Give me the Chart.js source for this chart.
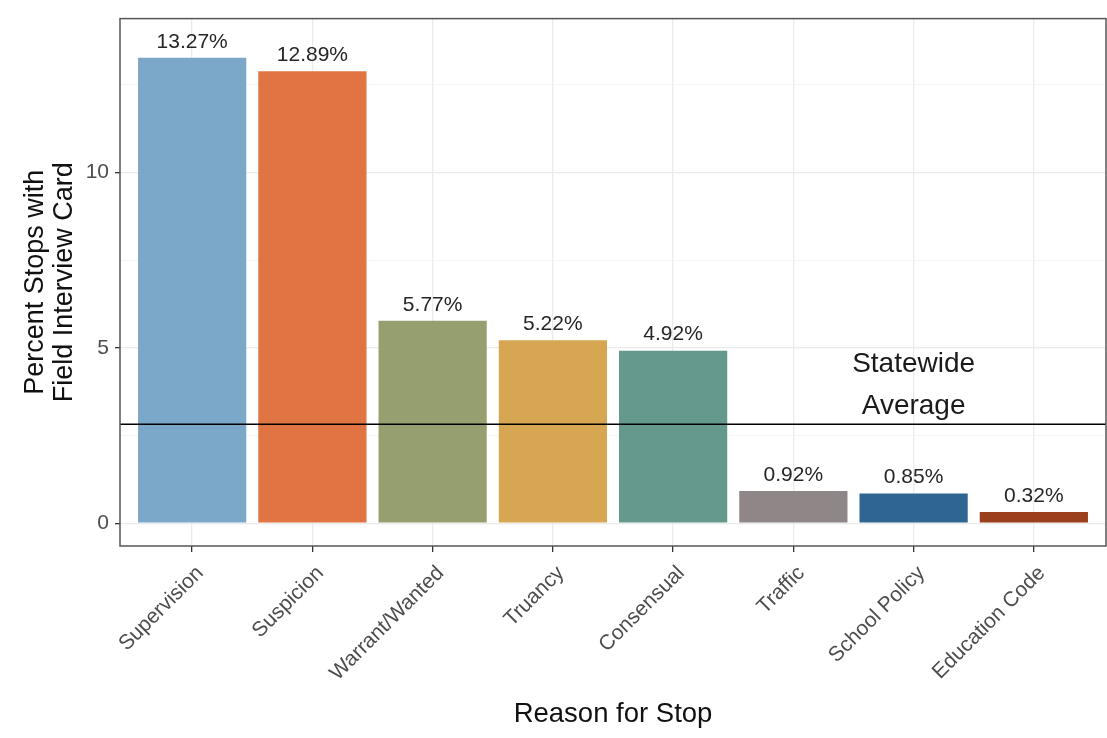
<!DOCTYPE html>
<html><head><meta charset="utf-8">
<script src="https://cdn.jsdelivr.net/npm/chart.js@4.4.1/dist/chart.umd.min.js"></script>
<style>html,body{margin:0;padding:0;background:#fff;overflow:hidden;}</style>
</head><body>
<canvas id="c" width="1107" height="738"></canvas>
<script>
const categories = ['Supervision','Suspicion','Warrant/Wanted','Truancy','Consensual','Traffic','School Policy','Education Code'];
const percentValues = [13.27, 12.89, 5.77, 5.22, 4.92, 0.92, 0.85, 0.32];
const barColors = ['#7BA7C9','#E07442','#959F70','#D7A652','#66998D','#8E8687','#2E6591','#9B3F1D'];
const statewideAverage = 2.82;
const yMajorTicks = [0, 5, 10];
const yMinorTicks = [2.5, 7.5, 12.5];
const yAxisTitle = ['Percent Stops with', 'Field Interview Card'];
const xAxisTitle = 'Reason for Stop';
const annotationLines = ['Statewide', 'Average'];
const annotationCategory = 'School Policy';

const FONT = '"Liberation Sans", Arial, Helvetica, sans-serif';
const barData = categories.map((c, i) => ({ x: i, y: percentValues[i] }));

const overlayPlugin = {
  id: 'overlay',
  afterDatasetsDraw(chart) {
    const {ctx, chartArea, scales} = chart;
    const yAvg = scales.y.getPixelForValue(statewideAverage);
    ctx.save();
    ctx.strokeStyle = '#000';
    ctx.lineWidth = 1.5;
    ctx.beginPath();
    ctx.moveTo(chartArea.left, yAvg);
    ctx.lineTo(chartArea.right, yAvg);
    ctx.stroke();
    const meta = chart.getDatasetMeta(0);
    ctx.fillStyle = '#262626';
    ctx.font = '21px ' + FONT;
    ctx.textAlign = 'center';
    ctx.textBaseline = 'middle';
    meta.data.forEach((bar, i) => {
      ctx.fillText(percentValues[i].toFixed(2) + '%', bar.x, bar.y - 16);
    });
    const xA = scales.x.getPixelForValue(categories.indexOf(annotationCategory));
    ctx.fillStyle = '#1a1a1a';
    ctx.font = '28px ' + FONT;
    ctx.fillText(annotationLines[0], xA, yAvg - 60);
    ctx.fillText(annotationLines[1], xA, yAvg - 18);
    ctx.strokeStyle = '#555';
    ctx.lineWidth = 1.5;
    ctx.strokeRect(chartArea.left, chartArea.top, chartArea.right - chartArea.left, chartArea.bottom - chartArea.top);
    ctx.restore();
  }
};

new Chart(document.getElementById('c'), {
  type: 'bar',
  data: {
    datasets: [{
      data: barData,
      backgroundColor: barColors,
      borderWidth: 0,
      categoryPercentage: 0.9,
      barPercentage: 1.0
    }]
  },
  options: {
    responsive: false,
    animation: false,
    devicePixelRatio: 1,
    layout: { padding: { top: 12, right: 1, left: 0, bottom: 0 } },
    plugins: { legend: { display: false }, tooltip: { enabled: false } },
    scales: {
      x: {
        type: 'linear',
        min: -0.6,
        max: categories.length - 0.4,
        offset: false,
        afterFit(scale) { scale.height = 192; },
        afterBuildTicks(scale) {
          scale.ticks = categories.map((c, i) => ({ value: i }));
        },
        grid: { offset: false, color: '#ebebeb', lineWidth: 1.3, tickColor: '#333', tickLength: 6 },
        border: { display: false },
        ticks: {
          autoSkip: false, maxRotation: 45, minRotation: 45, color: '#4d4d4d',
          font: { family: FONT, size: 21 }, padding: 9, labelOffset: 8,
          callback: v => categories[v] !== undefined ? categories[v] : ''
        },
        title: { display: true, text: xAxisTitle, color: '#111', font: { family: FONT, size: 27.5, lineHeight: 1.05 }, padding: { top: 0, bottom: 9 } }
      },
      y: {
        type: 'linear',
        min: -0.65,
        max: 14.39,
        afterFit(scale) { scale.width = 120; },
        afterBuildTicks(scale) {
          scale.ticks = yMajorTicks.concat(yMinorTicks).sort((a, b) => a - b).map(v => ({ value: v }));
        },
        grid: {
          color: c => yMinorTicks.includes(c.tick && c.tick.value) ? '#f3f3f3' : '#ebebeb',
          lineWidth: c => yMinorTicks.includes(c.tick && c.tick.value) ? 0.8 : 1.3,
          tickColor: c => yMinorTicks.includes(c.tick && c.tick.value) ? 'rgba(0,0,0,0)' : '#333',
          tickLength: 5
        },
        border: { display: false },
        ticks: {
          color: '#4d4d4d', font: { family: FONT, size: 21 }, padding: 6,
          callback: v => yMajorTicks.includes(v) ? String(v) : ''
        },
        title: { display: true, text: yAxisTitle, color: '#111', font: { family: FONT, size: 27, lineHeight: 1.04 }, padding: { top: 22, bottom: 0 } }
      }
    }
  },
  plugins: [overlayPlugin]
});
</script>
</body></html>
